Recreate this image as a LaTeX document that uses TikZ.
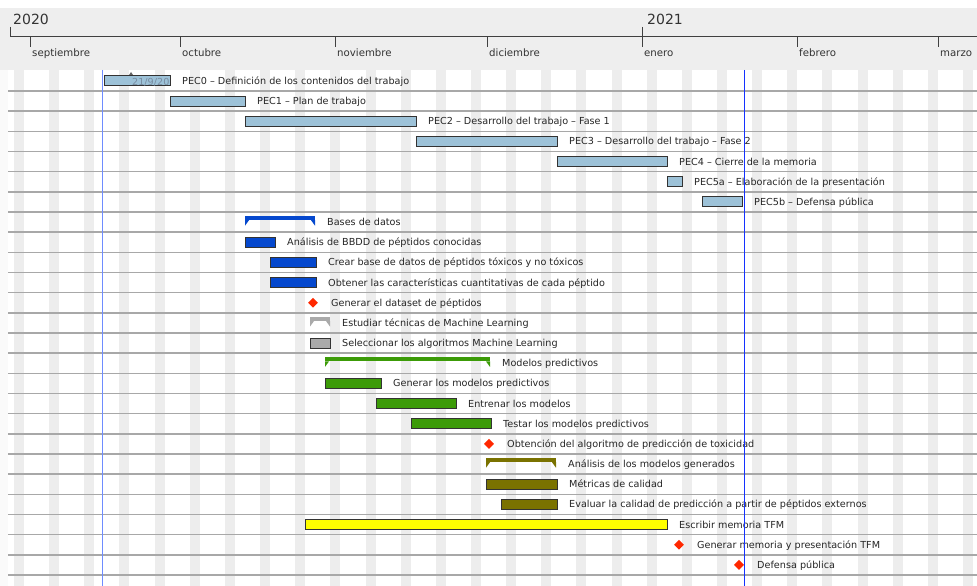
\documentclass[tikz,border=0pt]{standalone}
\usepackage{fontspec}
\setmainfont{DejaVu Sans}
\usetikzlibrary{shapes.geometric}
\definecolor{hdrbg}{RGB}{238,238,238}
\definecolor{stripe}{RGB}{237,237,237}
\definecolor{rowln}{RGB}{168,168,168}
\definecolor{pecblue}{RGB}{157,194,216}
\definecolor{taskblue}{RGB}{5,72,206}
\definecolor{taskgreen}{RGB}{60,155,8}
\definecolor{taskgray}{RGB}{170,170,170}
\definecolor{taskolive}{RGB}{122,114,0}
\definecolor{taskyellow}{RGB}{255,255,0}
\definecolor{msred}{RGB}{255,40,0}
\definecolor{todayA}{RGB}{110,140,255}
\definecolor{todayB}{RGB}{20,50,255}
\definecolor{datecol}{RGB}{120,140,160}
\newcommand\gtask[6]{%
  \node[taskbar,fill=#5,minimum width={(#4-#3)*1pt}] (#1) at ({(#3+#4)/2},{80.8+20.17*#2}) {};
  \node[lbl] (#1l) at ({#4+12},{84.4+20.17*#2}) {#6};
}
\newcommand\gsum[6]{%
  \node[sumbar,fill=#5,minimum width={(#4-#3)*1pt}] (#1) at ({(#3+#4)/2},{77+20.17*#2}) {};
  \fill[#5] (#1.south west) -- ++(0,5.5) -- ++(4,-5.5) -- cycle;
  \fill[#5] (#1.south east) -- ++(0,5.5) -- ++(-4,-5.5) -- cycle;
  \node[lbl] (#1l) at ({#4+12},{84.4+20.17*#2}) {#6};
}
\newcommand\gmile[4]{%
  \node[mile] (#1) at (#3,{80.8+20.17*#2}) {};
  \node[lbl] (#1l) at ({#3+18},{84.4+20.17*#2}) {#4};
}
\begin{document}
\begin{tikzpicture}[x=1pt,y=-1pt,
  lbl/.style={anchor=base west,inner sep=0,font=\fontsize{9.65}{10}\selectfont,text=black!85},
  monthlbl/.style={anchor=base west,inner sep=0,font=\fontsize{10.2}{11}\selectfont,text=black!80},
  yearlbl/.style={anchor=base west,inner sep=0,font=\fontsize{14}{15}\selectfont,text=black!80},
  taskbar/.style={draw=black!80,line width=0.9pt,inner sep=0,outer sep=0,minimum height=10pt},
  sumbar/.style={inner sep=0,outer sep=0,minimum height=4pt},
  mile/.style={diamond,fill=msred,inner sep=0,minimum size=10pt},
  axisln/.style={draw=black!75,line width=1pt},
  rowline/.style={draw=rowln,line width=1.5pt}]
\useasboundingbox (0,0) rectangle (977,586);
\fill[white] (0,0) rectangle (977,586);
% header
\fill[hdrbg] (0,8) rectangle (977,70);
\fill[black!2] (0,70) rectangle (8,586);
% weekend stripes
\foreach \k in {0,...,27} \fill[stripe] ({14+35.15*\k},70) rectangle ++(10,516);
% row lines
\foreach \k in {0,...,24} \draw[rowline] (8,{91+20.17*\k}) -- (977,{91+20.17*\k});
% time axis
\draw[axisln] (10,37) -- (977,37);
\draw[axisln] (10,27) -- (10,37);
\draw[axisln] (642,27) -- (642,37);
\node[yearlbl] (y2020) at (13,25) {2020};
\node[yearlbl] (y2021) at (647,25) {2021};
\foreach \x/\m in {30/septiembre,180/octubre,335/noviembre,487/diciembre,642/enero,797/febrero,938/marzo}{
  \draw[axisln] (\x,37) -- (\x,47);
  \node[monthlbl] at ({\x+2},56.5) {\m};
}
% PEC rows
\gtask{p0}{0}{104}{170}{pecblue}{PEC0 – Definición de los contenidos del trabajo}
\begin{scope}
  \clip (p0.south west) rectangle (p0.north east);
  \node[anchor=base west,inner sep=0,font=\fontsize{9.65}{10}\selectfont,text=datecol] (d0) at (132,85) {21/9/20};
\end{scope}
\fill[black!60] (129,75) -- (131,72) -- (133,75) -- cycle;
\gtask{p1}{1}{170}{245}{pecblue}{PEC1 – Plan de trabajo}
\gtask{p2}{2}{245}{416}{pecblue}{PEC2 – Desarrollo del trabajo – Fase 1}
\gtask{p3}{3}{416}{557}{pecblue}{PEC3 – Desarrollo del trabajo – Fase 2}
\gtask{p4}{4}{557}{667}{pecblue}{PEC4 – Cierre de la memoria}
\gtask{p5a}{5}{667}{682}{pecblue}{PEC5a – Elaboración de la presentación}
\gtask{p5b}{6}{702}{742}{pecblue}{PEC5b – Defensa pública}
% Bases de datos
\gsum{s1}{7}{245}{315}{taskblue}{Bases de datos}
\gtask{t8}{8}{245}{275}{taskblue}{Análisis de BBDD de péptidos conocidas}
\gtask{t9}{9}{270}{316}{taskblue}{Crear base de datos de péptidos tóxicos y no tóxicos}
\gtask{t10}{10}{270}{316}{taskblue}{Obtener las características cuantitativas de cada péptido}
\gmile{m11}{11}{313}{Generar el dataset de péptidos}
% ML
\gsum{s2}{12}{310}{330}{taskgray}{Estudiar técnicas de Machine Learning}
\gtask{t13}{13}{310}{330}{taskgray}{Seleccionar los algoritmos Machine Learning}
% models
\gsum{s3}{14}{325}{490}{taskgreen}{Modelos predictivos}
\gtask{t15}{15}{325}{381}{taskgreen}{Generar los modelos predictivos}
\gtask{t16}{16}{376}{456}{taskgreen}{Entrenar los modelos}
\gtask{t17}{17}{411}{491}{taskgreen}{Testar los modelos predictivos}
\gmile{m18}{18}{489}{Obtención del algoritmo de predicción de toxicidad}
% analysis
\gsum{s4}{19}{486}{556}{taskolive}{Análisis de los modelos generados}
\gtask{t20}{20}{486}{557}{taskolive}{Métricas de calidad}
\gtask{t21}{21}{501}{557}{taskolive}{Evaluar la calidad de predicción a partir de péptidos externos}
% writing
\gtask{t22}{22}{305}{667}{taskyellow}{Escribir memoria TFM}
\gmile{m23}{23}{679}{Generar memoria y presentación TFM}
\gmile{m24}{24}{739}{Defensa pública}
% today / deadline lines
\draw[todayA,line width=1pt] (102.5,70) -- (102.5,586);
\draw[todayB,line width=1pt] (744,70) -- (744,586);
\end{tikzpicture}
\end{document}
